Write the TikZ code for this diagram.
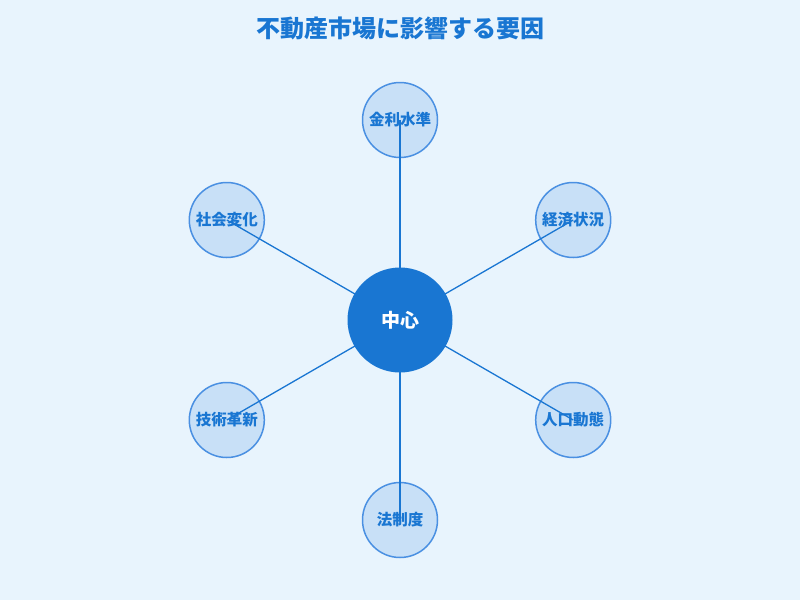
\documentclass[tikz,border=0pt]{standalone}
\usepackage{fontspec}
\setmainfont{Noto Sans CJK JP}
\definecolor{bgc}{HTML}{E8F4FD}
\definecolor{mainblue}{HTML}{1976D2}
\definecolor{outerfill}{HTML}{C8E0F7}
\definecolor{outerstroke}{HTML}{4A90E2}
\begin{document}
\begin{tikzpicture}[x=1pt,y=-1pt,
  outer/.style={circle,draw=outerstroke,fill=outerfill,line width=1.5pt,minimum size=75pt,inner sep=0pt},
  centre/.style={circle,fill=mainblue,minimum size=105pt,inner sep=0pt},
  lbl/.style={text=mainblue,font=\fontsize{15.5}{17}\selectfont\bfseries},
  link/.style={draw=mainblue,line width=1.3pt}]
\fill[bgc] (0,0) rectangle (800,600);
\useasboundingbox (0,0) rectangle (800,600);
\node[text=mainblue,font=\fontsize{24}{27}\selectfont\bfseries] (title) at (400,28) {不動産市場に影響する要因};
\coordinate (c) at (400,320);
\node[outer] (o1) at (400,120) {};
\node[outer] (o2) at (573.2,220) {};
\node[outer] (o3) at (573.2,420) {};
\node[outer] (o4) at (400,520) {};
\node[outer] (o5) at (226.8,420) {};
\node[outer] (o6) at (226.8,220) {};
\foreach \i in {1,...,6} \draw[link] (c) -- (o\i.center);
\node[centre] (ctr) at (c) {};
\node[text=white,font=\fontsize{19}{21}\selectfont\bfseries] (ctrl) at (c) {中心};
\node[lbl] (l1) at (o1) {金利水準};
\node[lbl] (l2) at (o2) {経済状況};
\node[lbl] (l3) at (o3) {人口動態};
\node[lbl] (l4) at (o4) {法制度};
\node[lbl] (l5) at (o5) {技術革新};
\node[lbl] (l6) at (o6) {社会変化};
\end{tikzpicture}
\end{document}
